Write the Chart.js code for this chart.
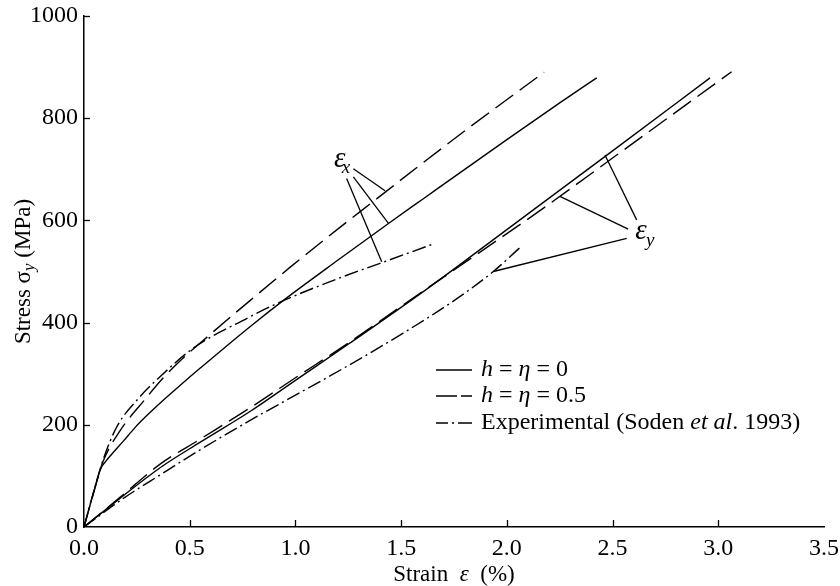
<!DOCTYPE html>
<html><head><meta charset="utf-8">
<script src="https://cdn.jsdelivr.net/npm/chart.js@4/dist/chart.umd.min.js"></script>
<style>html,body{margin:0;padding:0;background:#fff;}</style>
</head><body>
<canvas id="c" width="840" height="586"></canvas>
<script>
// ---------- data ----------
const xTickValues = [0, 0.5, 1.0, 1.5, 2.0, 2.5, 3.0, 3.5];
const yTickValues = [0, 200, 400, 600, 800, 1000];
const seriesNames = ['h = η = 0', 'h = η = 0.5', 'Experimental (Soden et al. 1993)'];

// epsilon_x branch (upper curves)
const exH0Strain   = [0, 0.04, 0.08, 0.1, 0.13, 0.186, 0.24, 0.297, 0.38, 0.454, 0.55, 0.785, 0.951, 1.2, 1.44, 1.6, 2.0, 2.25, 2.425];
const exH0Stress   = [0, 60, 115, 127, 142, 168, 194, 218, 250, 277, 311, 392, 446, 522, 594, 641, 758, 830, 879];
const exH05Strain  = [0, 0.045, 0.09, 0.17, 0.289, 0.375, 0.454, 0.6, 0.785, 0.974, 1.2, 1.368, 1.573, 1.8, 2.176];
const exH05Stress  = [0, 66, 128, 188, 250, 292, 325, 378, 443, 508, 583, 637, 703, 775, 890];
const exExpStrain  = [0, 0.045, 0.09, 0.155, 0.265, 0.344, 0.517, 0.769, 0.927, 1.2, 1.40, 1.66];
const exExpStress  = [0, 68, 131, 196, 255, 288, 350, 408, 440, 486, 516, 555];

// epsilon_y branch (lower curves)
const eyH0Strain   = [0, 0.17, 0.36, 0.55, 0.785, 1.0, 1.258, 1.636, 2.0, 2.5, 2.961];
const eyH0Stress   = [0, 56, 116, 166, 226, 287, 360, 470, 582, 736, 879];
const eyH05Strain  = [0, 0.17, 0.36, 0.55, 0.785, 1.0, 1.25, 1.5, 1.75, 2.173, 2.5, 3.063];
const eyH05Stress  = [0, 58, 123, 172, 233, 292, 360, 432, 503, 624, 722, 891];
const eyExpStrain  = [0, 0.186, 0.36, 0.549, 0.8, 1.0, 1.25, 1.5, 1.75, 1.936, 2.06];
const eyExpStress  = [0, 56, 102, 151, 212, 258, 316, 377, 443, 500, 546];

// annotation leaders (data coordinates) and labels
const exLeaderFrom = [[1.274, 701], [1.274, 685], [1.242, 682]];
const exLeaderTo   = [[1.424, 658], [1.44, 594], [1.408, 519]];
const eyLeaderFrom = [[2.614, 601], [2.574, 583], [2.567, 565]];
const eyLeaderTo   = [[2.464, 728], [2.251, 647], [1.936, 500]];
const exLabelAt = [1.21, 719];
const eyLabelAt = [2.634, 578];

// ---------- helpers ----------
const SERIF = '"Liberation Serif", "DejaVu Serif", serif';
const BLACK = '#000';
const DASH = [22, 8];
const DASHDOT = [14, 4, 2, 4];
function pts(xs, ys) { return xs.map((x, i) => ({x: x, y: ys[i]})); }
function curve(xs, ys, dash) {
  return { data: pts(xs, ys), borderColor: BLACK, borderWidth: 1.4, borderDash: dash,
           pointRadius: 0, fill: false, cubicInterpolationMode: 'monotone' };
}
function leader(a, b) {
  return { data: [{x: a[0], y: a[1]}, {x: b[0], y: b[1]}], borderColor: BLACK, borderWidth: 1.3,
           pointRadius: 0, fill: false, tension: 0 };
}
const datasets = [
  curve(exH0Strain, exH0Stress, []),
  curve(exH05Strain, exH05Stress, DASH),
  curve(exExpStrain, exExpStress, DASHDOT),
  curve(eyH0Strain, eyH0Stress, []),
  curve(eyH05Strain, eyH05Stress, DASH),
  curve(eyExpStrain, eyExpStress, DASHDOT)
];
exLeaderFrom.forEach((a, i) => datasets.push(leader(a, exLeaderTo[i])));
eyLeaderFrom.forEach((a, i) => datasets.push(leader(a, eyLeaderTo[i])));

function drawRuns(ctx, runs, x, y) {
  let w = 0;
  runs.forEach(r => { ctx.font = r.font; w += ctx.measureText(r.t).width; });
  let cx = x - w / 2;
  runs.forEach(r => { ctx.font = r.font; ctx.fillText(r.t, cx, y + (r.dy || 0)); cx += ctx.measureText(r.t).width; });
}
function runsLeft(ctx, runs, x, y) {
  let cx = x;
  runs.forEach(r => { ctx.font = r.font; ctx.fillText(r.t, cx, y + (r.dy || 0)); cx += ctx.measureText(r.t).width; });
}
const F = (s, it) => (it ? 'italic ' : '') + s + 'px ' + SERIF;

const decor = {
  id: 'decor',
  afterDraw(chart) {
    const ctx = chart.ctx, xs = chart.scales.x, ys = chart.scales.y;
    ctx.save();
    ctx.strokeStyle = BLACK; ctx.fillStyle = BLACK; ctx.lineWidth = 1.3;
    // inward tick marks
    const a = chart.chartArea;
    xTickValues.forEach(v => {
      if (v === 0 || v === 3.5) return;
      const p = Math.round(xs.getPixelForValue(v)) + 0.5;
      ctx.beginPath(); ctx.moveTo(p, a.bottom); ctx.lineTo(p, a.bottom - 7); ctx.stroke();
    });
    yTickValues.forEach(v => {
      if (v === 0) return;
      const p = Math.round(ys.getPixelForValue(v)) + 0.5;
      ctx.beginPath(); ctx.moveTo(a.left, p); ctx.lineTo(a.left + 6, p); ctx.stroke();
    });
    // axis titles
    ctx.textBaseline = 'middle';
    drawRuns(ctx, [{t: 'Strain  ', font: F(23)}, {t: 'ε', font: F(23, true)}, {t: '  (%)', font: F(23)}],
             (a.left + a.right) / 2, 575);
    ctx.save();
    ctx.translate(24, (a.top + a.bottom) / 2);
    ctx.rotate(-Math.PI / 2);
    drawRuns(ctx, [{t: 'Stress ', font: F(23)}, {t: 'σ', font: F(23)}, {t: 'y', font: F(17, true), dy: 6},
                   {t: ' (MPa)', font: F(23)}], 0, 0);
    ctx.restore();
    // epsilon labels
    ctx.textBaseline = 'alphabetic';
    const exX = xs.getPixelForValue(exLabelAt[0]), exY = ys.getPixelForValue(exLabelAt[1]);
    ctx.font = F(29, true); ctx.textAlign = 'center'; ctx.fillText('ε', exX, exY + 7);
    ctx.font = F(19, true); ctx.textAlign = 'left'; ctx.fillText('x', exX + 2, exY + 13);
    const eyX = xs.getPixelForValue(eyLabelAt[0]), eyY = ys.getPixelForValue(eyLabelAt[1]);
    ctx.font = F(29, true); ctx.textAlign = 'center'; ctx.fillText('ε', eyX, eyY + 7);
    ctx.font = F(19, true); ctx.textAlign = 'left'; ctx.fillText('y', eyX + 5, eyY + 14);
    // legend
    const lx0 = 436, lx1 = 472, tx = 481, rows = [370, 396, 423];
    ctx.lineWidth = 1.4;
    ctx.setLineDash([]);
    ctx.beginPath(); ctx.moveTo(lx0, rows[0]); ctx.lineTo(lx1, rows[0]); ctx.stroke();
    ctx.setLineDash([21, 4, 12, 100]);
    ctx.beginPath(); ctx.moveTo(lx0, rows[1]); ctx.lineTo(lx1, rows[1]); ctx.stroke();
    ctx.setLineDash([12, 4, 2, 4, 14, 100]);
    ctx.beginPath(); ctx.moveTo(lx0, rows[2]); ctx.lineTo(lx1, rows[2]); ctx.stroke();
    ctx.setLineDash([]);
    ctx.textBaseline = 'middle'; ctx.textAlign = 'left';
    runsLeft(ctx, [{t: 'h', font: F(24, true)}, {t: ' = ', font: F(24)}, {t: 'η', font: F(24, true)}, {t: ' = 0', font: F(24)}], tx, rows[0]);
    runsLeft(ctx, [{t: 'h', font: F(24, true)}, {t: ' = ', font: F(24)}, {t: 'η', font: F(24, true)}, {t: ' = 0.5', font: F(24)}], tx, rows[1]);
    runsLeft(ctx, [{t: 'Experimental (Soden ', font: F(24)}, {t: 'et al', font: F(24, true)}, {t: '. 1993)', font: F(24)}], tx, rows[2]);
    ctx.restore();
  }
};

new Chart(document.getElementById('c'), {
  type: 'line',
  data: { datasets: datasets },
  options: {
    responsive: false, animation: false, devicePixelRatio: 1,
    layout: { padding: { left: 0, right: 16, top: 16, bottom: 0 } },
    plugins: { legend: { display: false }, tooltip: { enabled: false } },
    scales: {
      x: {
        type: 'linear', min: 0, max: 3.5,
        afterFit: s => { s.height = 59; s.paddingLeft = 0; s.paddingRight = 0; },
        afterBuildTicks: s => { s.ticks = xTickValues.map(v => ({value: v})); },
        ticks: { callback: v => v.toFixed(1), color: BLACK, padding: 7, maxRotation: 0,
                 font: { family: SERIF, size: 24 } },
        grid: { display: false, drawTicks: false, tickLength: 0 },
        border: { display: true, color: BLACK, width: 1.5 }
      },
      y: {
        type: 'linear', min: 0, max: 1000,
        afterFit: s => { s.width = 84; s.paddingTop = 0; s.paddingBottom = 0; },
        afterBuildTicks: s => { s.ticks = yTickValues.map(v => ({value: v})); },
        ticks: { callback: v => String(v), color: BLACK, padding: 6,
                 font: { family: SERIF, size: 24 } },
        grid: { display: false, drawTicks: false, tickLength: 0 },
        border: { display: true, color: BLACK, width: 1.5 }
      }
    }
  },
  plugins: [decor]
});
</script>
</body></html>
